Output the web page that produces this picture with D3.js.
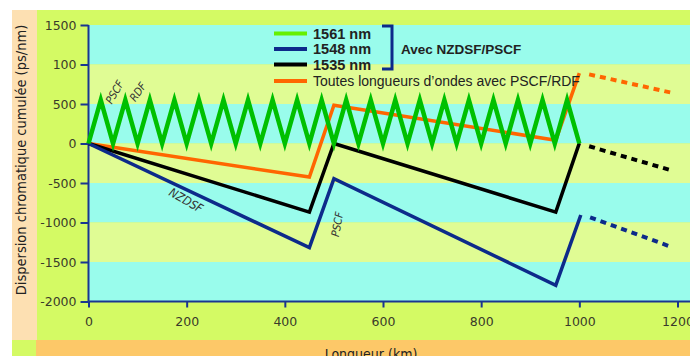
<html>
<head>
<meta charset="utf-8">
<title>Dispersion chromatique</title>
<script src="https://cdnjs.cloudflare.com/ajax/libs/d3/7.8.5/d3.min.js"></script>
<style>
  body { margin: 0; background: #fff; }
  svg { display: block; font-family: "DejaVu Sans", sans-serif; }
</style>
</head>
<body>
<svg id="chart" width="690" height="356"></svg>
<script>
// values (km, ps/nm)
var yTicks = [1500, 1000, 500, 0, -500, -1000, -1500, -2000];
var yTickLabels = ["1500", "100", "500", "0", "-500", "-1000", "-1500", "-2000"];
var xTicks = [0, 200, 400, 600, 800, 1000, 1200];
var bandEdges = [1500, 1000, 500, 0, -500, -1000, -1500, -2000];

var green1561 = [[0,0],[25,550],[50,0],[75,550],[100,0],[125,550],[150,0],[175,550],[200,0],
  [225,550],[250,0],[275,550],[300,0],[325,550],[350,0],[375,550],[400,0],[425,550],[450,0],
  [475,550],[500,0],[525,550],[550,0],[575,550],[600,0],[625,550],[650,0],[675,550],[700,0],
  [725,550],[750,0],[775,550],[800,0],[825,550],[850,0],[875,550],[900,0],[925,550],[950,0],
  [975,550],[1000,0]];
var orangeAll = [[0,0],[450,-425],[500,485],[952,42],[1000,890]];
var orangeDash = [[1020,875],[1190,640]];
var black1535 = [[0,0],[450,-868],[500,0],[952,-868],[1000,5]];
var blackDash = [[1020,-35],[1190,-345]];
var blue1548 = [[0,0],[450,-1318],[500,-445],[952,-1795],[1003,-905]];
var blueDash = [[1022,-935],[1190,-1315]];

var legendItems = [
  {label: "1561 nm", color: "#66f000"},
  {label: "1548 nm", color: "#0d2a8a"},
  {label: "1535 nm", color: "#000000"},
  {label: "Toutes longueurs d\u2019ondes avec PSCF/RDF", color: "#ff6600"}
];

var svg = d3.select("#chart");

var x = d3.scaleLinear().domain([0, 1200]).range([88.5, 677.5]);
var y = d3.scaleLinear().domain([-2000, 1500]).range([301.5, 25]);

// backgrounds
svg.append("rect").attr("x", 12).attr("y", 10).attr("width", 25).attr("height", 330).attr("fill", "#fde0b2");
svg.append("rect").attr("x", 37).attr("y", 10).attr("width", 653).attr("height", 330).attr("fill", "#d4fa64");
svg.append("rect").attr("x", 12).attr("y", 340).attr("width", 25).attr("height", 16).attr("fill", "#d4fa64");
svg.append("rect").attr("x", 36).attr("y", 340).attr("width", 654).attr("height", 16).attr("fill", "#fdc868");

// horizontal bands
var bands = d3.pairs(bandEdges);
svg.append("g").selectAll("rect").data(bands).enter().append("rect")
  .attr("x", x(0))
  .attr("y", d => y(d[0]))
  .attr("width", 690 - x(0))
  .attr("height", d => y(d[1]) - y(d[0]))
  .attr("fill", (d, i) => i % 2 === 0 ? "#99fcec" : "#e0fc94");

// axes
var axisColor = "#1a3590";
var yAxis = svg.append("g").attr("transform", "translate(" + x(0) + ",0)")
  .call(d3.axisLeft(y).tickValues(yTicks).tickSize(8).tickPadding(4)
    .tickFormat((d, i) => yTickLabels[i]));
var xAxis = svg.append("g").attr("transform", "translate(0," + y(-2000) + ")")
  .call(d3.axisBottom(x).tickValues(xTicks).tickSize(6).tickPadding(10)
    .tickFormat(d3.format("d")));
[yAxis, xAxis].forEach(function(a) {
  a.select(".domain").remove();
  a.selectAll("line").attr("stroke", axisColor).attr("stroke-width", 2);
  a.selectAll("text").attr("fill", "#3a3a2a").style("font-size", "12.5px")
    .style("font-family", "'DejaVu Sans', sans-serif");
});
svg.append("line").attr("x1", x(0)).attr("x2", x(0)).attr("y1", y(1500)).attr("y2", y(-2000))
  .attr("stroke", axisColor).attr("stroke-width", 2);
svg.append("line").attr("x1", x(0)).attr("x2", 690).attr("y1", y(-2000)).attr("y2", y(-2000))
  .attr("stroke", axisColor).attr("stroke-width", 2);

// data lines
var line = d3.line().x(d => x(d[0])).y(d => y(d[1]));
function draw(data, color, w, dash) {
  svg.append("path").datum(data).attr("d", line)
    .attr("fill", "none").attr("stroke", color).attr("stroke-width", w)
    .attr("stroke-linejoin", "miter").attr("stroke-dasharray", dash || null);
}
draw(orangeAll, "#ff6600", 3.5);
draw(orangeDash, "#ff6600", 4, "6,5");
draw(black1535, "#000", 3.5);
draw(blackDash, "#000", 4, "6,5");
draw(blue1548, "#0d2a8a", 3.5);
draw(blueDash, "#0d2a8a", 4, "6,5");
draw(green1561, "#00c000", 4.5);

// annotations
function note(txt, cx, cy, rot, size) {
  svg.append("text").attr("transform", "translate(" + cx + "," + cy + ") rotate(" + rot + ")")
    .attr("text-anchor", "middle").attr("fill", "#333")
    .style("font-size", size + "px").style("font-style", "italic")
    .style("font-family", "'DejaVu Sans Condensed', 'DejaVu Sans', sans-serif")
    .text(txt);
}
note("PSCF", 118, 94, -60, 11);
note("RDF", 141, 94, -55, 11);
note("NZDSF", 184, 204, 30, 12);
note("PSCF", 341, 225, -80, 11);

// legend
var lg = svg.append("g").style("font-family", "'Liberation Sans', Arial, sans-serif");
legendItems.forEach(function(d, i) {
  var ly = [33.5, 49, 64.5, 81][i];
  lg.append("line").attr("x1", 274).attr("x2", 307).attr("y1", ly).attr("y2", ly)
    .attr("stroke", d.color).attr("stroke-width", 4);
  lg.append("text").attr("x", 313).attr("y", ly + 5).attr("fill", "#222")
    .style("font-size", i < 3 ? "14.5px" : "14px").style("font-weight", i < 3 ? "bold" : "normal")
    .text(d.label);
});
lg.append("path").attr("d", "M382,26 H392 V69 H382").attr("fill", "none")
  .attr("stroke", "#0d2a8a").attr("stroke-width", 3);
lg.append("text").attr("x", 401).attr("y", 54).attr("fill", "#222")
  .style("font-size", "13.5px").style("font-weight", "bold").text("Avec NZDSF/PSCF");

// axis titles
svg.append("text").attr("transform", "translate(26,160) rotate(-90)")
  .attr("text-anchor", "middle").attr("fill", "#222").style("font-size", "14.5px")
  .style("font-family", "'DejaVu Sans Condensed', sans-serif")
  .text("Dispersion chromatique cumul\u00e9e (ps/nm)");
svg.append("text").attr("x", 371).attr("y", 359).attr("text-anchor", "middle")
  .attr("fill", "#222").style("font-size", "14px")
  .style("font-family", "'DejaVu Sans Condensed', sans-serif")
  .text("Longueur (km)");
</script>
</body>
</html>
